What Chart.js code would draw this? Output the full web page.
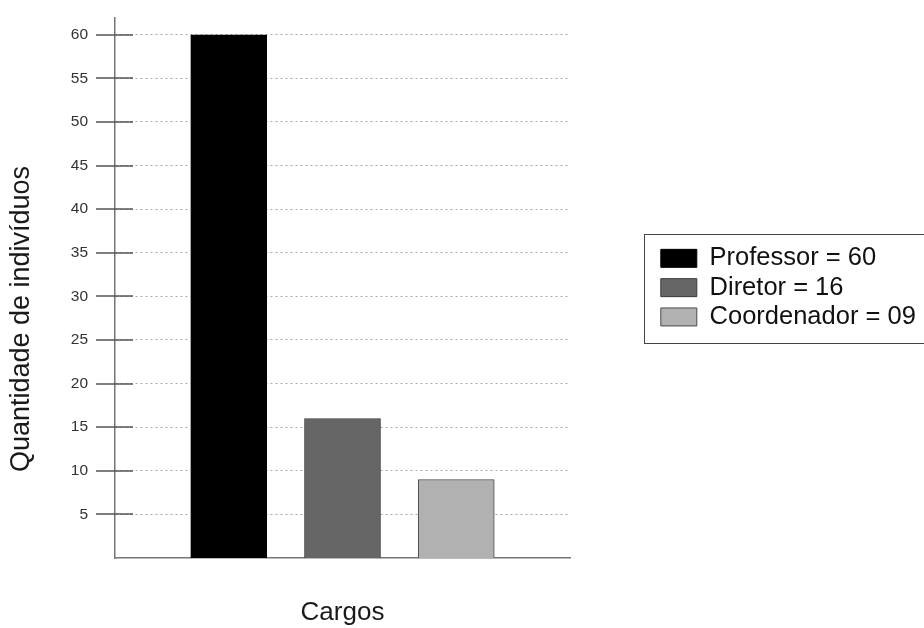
<!DOCTYPE html>
<html>
<head>
<meta charset="utf-8">
<script src="https://cdn.jsdelivr.net/npm/chart.js@4/dist/chart.umd.min.js"></script>
<style>
  html, body { margin: 0; padding: 0; background: #ffffff; }
  canvas { display: block; }
</style>
</head>
<body>
<canvas id="chart" width="924" height="628"></canvas>
<script>
// Number of people per role
const categories = ['Professor', 'Diretor', 'Coordenador'];
const counts = [60, 16, 9];
const yTickValues = [5, 10, 15, 20, 25, 30, 35, 40, 45, 50, 55, 60];
const yTitle = 'Quantidade de indivíduos';
const xTitle = 'Cargos';

const fillColors = ['#000000', '#666666', '#b1b1b1'];
const edgeColors = ['#000000', '#3a3a3a', '#4a4a4a'];

const FONT = "'Liberation Sans', Arial, Helvetica, sans-serif";
Chart.defaults.font.family = FONT;
Chart.defaults.color = '#1a1a1a';

const datasets = categories.map((cat, i) => ({
  label: cat + ' = ' + String(counts[i]).padStart(2, '0'),
  data: [{ x: cat, y: counts[i] }],
  backgroundColor: fillColors[i],
  borderColor: edgeColors[i],
  borderWidth: 1,
  barThickness: 76,
  grouped: false
}));

// Extra drawing: y tick marks crossing the axis, rotated y title, legend frame
const decorations = {
  id: 'decorations',
  afterDraw(chart) {
    const ctx = chart.ctx;
    const area = chart.chartArea;
    const y = chart.scales.y;
    const outer = y.options.grid.tickLength;

    ctx.save();
    ctx.strokeStyle = '#555555';
    ctx.lineWidth = 1.5;
    y.ticks.forEach(t => {
      const py = Math.round(y.getPixelForValue(t.value));
      ctx.beginPath();
      ctx.moveTo(area.left - outer, py);
      ctx.lineTo(area.left + 18, py);
      ctx.stroke();
    });
    ctx.restore();

    ctx.save();
    ctx.translate(22, 319);
    ctx.rotate(-Math.PI / 2);
    ctx.font = '27px ' + FONT;
    ctx.fillStyle = '#1a1a1a';
    ctx.textAlign = 'center';
    ctx.textBaseline = 'middle';
    ctx.fillText(yTitle, 0, 0);
    ctx.restore();

    const lg = chart.legend;
    if (lg && lg.legendHitBoxes && lg.legendHitBoxes.length) {
      const boxes = lg.legendHitBoxes;
      const first = boxes[0];
      const last = boxes[boxes.length - 1];
      const boxH = lg.options.labels.boxHeight;
      const itemH = Math.max(lg.options.labels.font.size, boxH);
      const inset = (itemH - boxH) / 2;
      const left = Math.round(first.left - 17) + 0.5;
      const top = Math.round(first.top + inset - 15) + 0.5;
      const bottom = Math.round(last.top + inset + boxH + 17) + 0.5;
      ctx.save();
      ctx.strokeStyle = '#444444';
      ctx.lineWidth = 1;
      ctx.strokeRect(left, top, chart.width + 4 - left, bottom - top);
      ctx.restore();
    }
  }
};

new Chart(document.getElementById('chart'), {
  type: 'bar',
  data: {
    labels: ['', ...categories, ''],
    datasets: datasets
  },
  options: {
    responsive: false,
    animation: false,
    layout: { padding: { top: 16, left: 0, right: 0, bottom: 0 } },
    scales: {
      x: {
        type: 'category',
        offset: false,
        grid: { display: false },
        ticks: { display: false },
        border: { display: true, color: '#777777', width: 1.5 },
        title: {
          display: true,
          text: xTitle,
          font: { size: 26 },
          color: '#1a1a1a',
          padding: { top: 0, bottom: 0 }
        },
        afterFit(scale) { scale.height = 70; }
      },
      y: {
        type: 'linear',
        min: 0,
        max: 62,
        ticks: {
          font: { size: 15.5 },
          color: '#333333',
          padding: 8,
          includeBounds: false
        },
        afterBuildTicks(axis) {
          axis.ticks = yTickValues.map(v => ({ value: v }));
        },
        grid: {
          color: '#a8a8a8',
          lineWidth: 1,
          drawTicks: true,
          tickLength: 19,
          tickColor: 'rgba(0,0,0,0)',
          tickWidth: 1.5
        },
        border: { display: true, color: '#777777', width: 1.5, dash: [2, 3] },
        afterFit(scale) { scale.width = 115; }
      },
      spacer: {
        type: 'linear',
        position: 'right',
        display: true,
        grid: { display: false, drawTicks: false },
        ticks: { display: false },
        border: { display: false },
        afterFit(scale) { scale.width = 87; }
      }
    },
    plugins: {
      tooltip: { enabled: false },
      legend: {
        display: true,
        position: 'right',
        align: 'center',
        fullSize: false,
        maxWidth: 267,
        labels: {
          boxWidth: 36,
          boxHeight: 18,
          padding: 3.8,
          color: '#111111',
          font: { size: 25.5 }
        }
      }
    }
  },
  plugins: [decorations]
});
</script>
</body>
</html>
